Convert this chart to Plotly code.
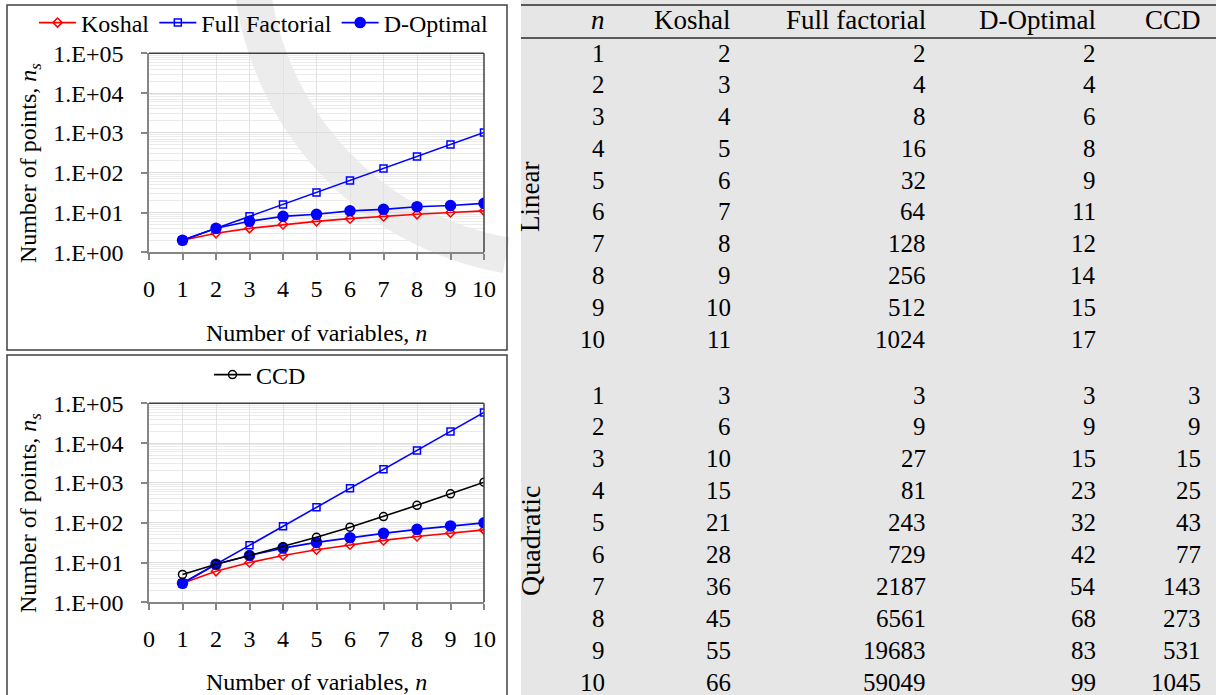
import math
import plotly.graph_objects as go

W, H = 1216, 695
FONT = "'Liberation Serif', 'Times New Roman', Times, serif"

# ---- data -------------------------------------------------------------
n_vars = [1, 2, 3, 4, 5, 6, 7, 8, 9, 10]

# linear response surface: number of sample points
koshal_lin = [2, 3, 4, 5, 6, 7, 8, 9, 10, 11]
full_lin = [2, 4, 8, 16, 32, 64, 128, 256, 512, 1024]
dopt_lin = [2, 4, 6, 8, 9, 11, 12, 14, 15, 17]

# quadratic response surface: number of sample points
koshal_quad = [3, 6, 10, 15, 21, 28, 36, 45, 55, 66]
full_quad = [3, 9, 27, 81, 243, 729, 2187, 6561, 19683, 59049]
dopt_quad = [3, 9, 15, 23, 32, 42, 54, 68, 83, 99]
ccd_quad = [3, 9, 15, 25, 43, 77, 143, 273, 531, 1045]
# CCD curve as plotted in the lower chart
ccd_curve = [5, 9, 15, 25, 43, 77, 143, 273, 531, 1045]

x_ticks = [0, 1, 2, 3, 4, 5, 6, 7, 8, 9, 10]
y_ticks = [1, 10, 100, 1000, 10000, 100000]
y_ticktext = ["1.E+00", "1.E+01", "1.E+02", "1.E+03", "1.E+04", "1.E+05"]

table_headers = ["<i>n</i>", "Koshal", "Full factorial", "D-Optimal", "CCD"]


def px(x):
    return x / W


def py(y):
    return 1 - y / H


RED = "#ff0000"
BLUE = "#0000ff"
BLACK = "#000000"

fig = go.Figure()


def add_series(xa, ya, y, name, color, symbol, size, legend, show):
    fig.add_trace(go.Scatter(
        x=n_vars, y=y, name=name, mode="lines+markers",
        xaxis=xa, yaxis=ya, legend=legend, showlegend=show,
        line=dict(color=color, width=1.6),
        marker=dict(symbol=symbol, size=size, color=color,
                    line=dict(color=color, width=1.5)),
    ))


# upper chart: linear
add_series("x", "y", koshal_lin, "Koshal", RED, "diamond-open", 7, "legend", True)
add_series("x", "y", full_lin, "Full Factorial", BLUE, "square-open", 7, "legend", True)
add_series("x", "y", dopt_lin, "D-Optimal", BLUE, "circle", 10, "legend", True)

# lower chart: quadratic
add_series("x2", "y2", koshal_quad, "Koshal", RED, "diamond-open", 7, "legend2", False)
add_series("x2", "y2", full_quad, "Full Factorial", BLUE, "square-open", 7, "legend2", False)
add_series("x2", "y2", dopt_quad, "D-Optimal", BLUE, "circle", 10, "legend2", False)
add_series("x2", "y2", ccd_curve, "CCD", BLACK, "circle-open", 8, "legend2", True)

minor_vals = [k * 10 ** e for e in range(5) for k in range(2, 10)]
tickfont = dict(family=FONT, size=24, color="black")
AXIS_GREY = "#868686"


def x_cfg(anchor):
    return dict(
        domain=[px(149), px(484)], anchor=anchor, range=[0, 10],
        tickmode="array", tickvals=x_ticks, ticks="outside", ticklen=6,
        tickwidth=1.5, tickcolor=AXIS_GREY, showline=True, linecolor=AXIS_GREY,
        linewidth=1.5, showgrid=True, gridcolor="#e2e2e2", gridwidth=1,
        zeroline=False, tickfont=tickfont, ticklabelstandoff=8,
        fixedrange=True, automargin=False,
    )


def y_cfg(anchor, top, bottom):
    return dict(
        domain=[py(bottom), py(top)], anchor=anchor, type="log", range=[0, 5],
        tickmode="array", tickvals=y_ticks, ticktext=y_ticktext,
        ticks="outside", ticklen=6, tickwidth=1.5, tickcolor=AXIS_GREY,
        showline=True, linecolor=AXIS_GREY, linewidth=1.5,
        showgrid=True, gridcolor="#dcdcdc", gridwidth=1,
        minor=dict(tickvals=minor_vals, showgrid=True, gridcolor="#ebebeb",
                   gridwidth=1, ticks=""),
        zeroline=False, tickfont=tickfont, ticklabelstandoff=13,
        fixedrange=True, automargin=False,
    )


shapes = []

# faint ring of the page watermark
cx, cy, r = 560, -50, 310
pts = []
for i in range(0, 61):
    a = math.radians(100 + i * 1.4)
    pts.append((cx + r * math.cos(a), cy + r * math.sin(a)))
path = "M " + " L ".join(f"{px(x):.5f},{py(y):.5f}" for x, y in pts)
shapes.append(dict(type="path", path=path, xref="paper", yref="paper",
                   line=dict(color="rgba(170,170,170,0.22)", width=36),
                   layer="below"))

# table background and rules
shapes.append(dict(type="rect", xref="paper", yref="paper",
                   x0=px(521), x1=px(1216), y0=py(695), y1=py(0),
                   fillcolor="#e6e6e6", line=dict(width=0), layer="below"))
for yy in (5, 38):
    shapes.append(dict(type="line", xref="paper", yref="paper",
                       x0=px(521), x1=px(1216), y0=py(yy), y1=py(yy),
                       line=dict(color="#5a5a5a", width=2)))

# chart frames
for top, bottom in ((5, 350), (355, 702)):
    shapes.append(dict(type="rect", xref="paper", yref="paper",
                       x0=px(7), x1=px(507), y0=py(bottom), y1=py(top),
                       line=dict(color="#404040", width=1.5),
                       fillcolor="rgba(0,0,0,0)"))

# dark top / right edges of each plot area
for xa, ya in (("x", "y"), ("x2", "y2")):
    shapes.append(dict(type="line", xref=f"{xa} domain", yref=f"{ya} domain",
                       x0=0, x1=1, y0=1, y1=1,
                       line=dict(color="#404040", width=1.5)))
    shapes.append(dict(type="line", xref=f"{xa} domain", yref=f"{ya} domain",
                       x0=1, x1=1, y0=0, y1=1,
                       line=dict(color="#404040", width=1.5)))

annotations = []


def label(text, x, y, size=24, xanchor="center", angle=0):
    annotations.append(dict(
        text=text, x=px(x), y=py(y), xref="paper", yref="paper",
        xanchor=xanchor, yanchor="middle", showarrow=False, textangle=angle,
        font=dict(family=FONT, size=size, color="black"),
    ))


# axis titles
for y_axis_mid, y_title in ((163, 333), (513, 682)):
    label("Number of variables, <i>n</i>", 316, y_title)
    label("Number of points, <i>n<sub>s</sub></i>", 30, y_axis_mid, angle=-90)

# table
col_right = [607, 733, 928, 1098, 1203]
for hdr, xr in zip(table_headers, col_right):
    label(hdr, xr, 20, size=27, xanchor="right")

lin_cols = [n_vars, koshal_lin, full_lin, dopt_lin]
quad_cols = [n_vars, koshal_quad, full_quad, dopt_quad, ccd_quad]
for k in range(len(n_vars)):
    for col, xr in zip(lin_cols, col_right):
        label(str(col[k]), xr, 53 + 31.8 * k, size=25, xanchor="right")
    for col, xr in zip(quad_cols, col_right):
        label(str(col[k]), xr, 395 + 31.9 * k, size=25, xanchor="right")

label("Linear", 530, 197, size=27, angle=-90)
label("Quadratic", 530, 541, size=28, angle=-90)

legend_font = dict(family=FONT, size=24, color="black")

fig.update_layout(
    width=W, height=H,
    margin=dict(l=0, r=0, t=0, b=0, autoexpand=False),
    paper_bgcolor="white", plot_bgcolor="white",
    xaxis=x_cfg("y"), yaxis=y_cfg("x", 53.3, 252.3),
    xaxis2=x_cfg("y2"), yaxis2=y_cfg("x2", 403.3, 602.3),
    legend=dict(orientation="h", x=px(34), y=py(23), xanchor="left",
                yanchor="middle", font=legend_font, itemwidth=37,
                bgcolor="rgba(0,0,0,0)", borderwidth=0),
    legend2=dict(orientation="h", x=px(209), y=py(375), xanchor="left",
                 yanchor="middle", font=legend_font, itemwidth=37,
                 bgcolor="rgba(0,0,0,0)", borderwidth=0),
    shapes=shapes,
    annotations=annotations,
)

fig.write_html("out.html")
